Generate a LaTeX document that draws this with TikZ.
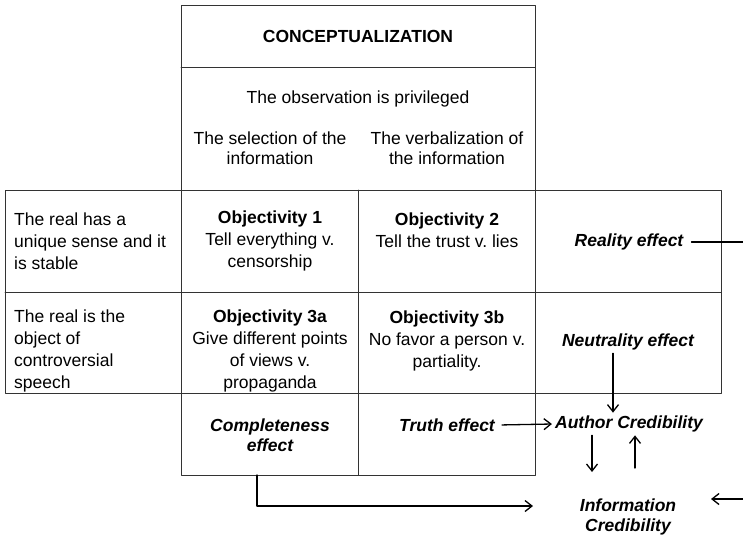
\documentclass[tikz,border=0pt]{standalone}
\usepackage{fontspec}
\setmainfont{Liberation Sans}
\usetikzlibrary{arrows.meta}

\tikzset{
  grid/.style={line width=0.9pt, black!80},
  cell/.style={align=center, inner sep=0pt},
  effect/.style={font=\fontsize{17.5}{20}\selectfont\bfseries\itshape, align=center, inner sep=3pt},
  link/.style={line width=1.3pt, ->}
}

\begin{document}
\begin{tikzpicture}[x=1pt, y=-1pt, >={Straight Barb[length=7pt,width=11pt]}, line join=round, line cap=round, font=\fontsize{17.5}{22}\selectfont]
  % --- Khung hình ---
  \useasboundingbox (0,0) rectangle (743,539);

  % --- Khung lưới ---
  \draw[grid] (181,5) rectangle (535,190);
  \draw[grid] (181,67) -- (535,67);
  \draw[grid] (5,190) rectangle (721,393);
  \draw[grid] (5,292) -- (721,292);
  \foreach \x in {181,358,535}
    \draw[grid] (\x,190) -- (\x,393);
  \draw[grid] (181,393) rectangle (535,475);
  \draw[grid] (358,393) -- (358,475);

  % --- Phần đầu ---
  \node[font=\fontsize{17.5}{22}\selectfont\bfseries] (concept) at (358,36) {CONCEPTUALIZATION};
  \node (observ) at (358,99) {The observation is privileged};
  \node[cell, font=\fontsize{17.5}{20}\selectfont] (select) at (270,148) {The selection of the\\information};
  \node[cell, font=\fontsize{17.5}{20}\selectfont] (verbal) at (447,148) {The verbalization of\\the information};

  % --- Hàng 1 ---
  \node[cell, align=left, anchor=west] (real1) at (14,241) {The real has a\\unique sense and it\\is stable};
  \node[cell] (obj1) at (270,241) {\textbf{Objectivity 1}\\Tell everything v.\\censorship};
  \node[cell] (obj2) at (447,230) {\textbf{Objectivity 2}\\Tell the trust v.\ lies};
  \node[effect] (reality) at (629,242) {Reality effect};

  % --- Hàng 2 ---
  \node[cell, align=left, anchor=west] (real2) at (14,351) {The real is the\\object of\\controversial\\speech};
  \node[cell] (obj3a) at (270,351) {\textbf{Objectivity 3a}\\Give different points\\of views v.\\propaganda};
  \node[cell] (obj3b) at (447,341) {\textbf{Objectivity 3b}\\No favor a person v.\\partiality.};
  \node[effect] (neutral) at (628,342) {Neutrality effect};

  % --- Hàng 3 ---
  \node[effect] (complete) at (270,435) {Completeness\\effect};
  \node[effect] (truth) at (447,425) {Truth effect};
  \node[effect] (acred) at (629,424) {Author Credibility};
  \node[effect] (icred) at (628,517) {Information\\Credibility};

  % --- Các đầu mút tự do ---
  \coordinate (rout) at (743,242);
  \coordinate (rin) at (743,499);
  \coordinate (rtip) at (711,499);
  \coordinate (cbot) at (257,475);
  \coordinate (cend) at (533,506);
  \coordinate (dn) at (592,472);
  \coordinate (up) at (635,468);

  % --- Mũi tên ---
  \draw[line width=1.3pt] ([xshift=5pt]reality.east) -- (rout);
  \draw[link] ([xshift=-15pt]neutral.south) -- ([xshift=-16pt]acred.north);
  \draw[link, shorten <=4pt] (truth.east) -- (acred.west);
  \draw[link] (acred.south -| dn) -- (dn);
  \draw[link] (up) -- (acred.south -| up);
  \draw[link] (cbot) |- (cend);
  \draw[link] (rin) -- (rtip);
\end{tikzpicture}
\end{document}
